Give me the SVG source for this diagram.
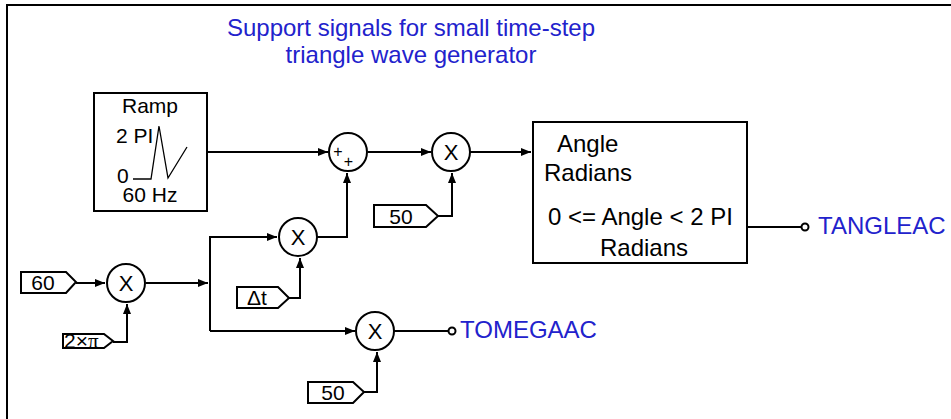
<svg xmlns="http://www.w3.org/2000/svg" width="951" height="419" viewBox="0 0 951 419">
<style>
.ln{fill:none;stroke:#000;stroke-width:2}
.bx{fill:#fff;stroke:#000;stroke-width:2}
.t{font-family:"Liberation Sans",Arial,sans-serif;font-size:21px;fill:#000}
.tb{font-family:"Liberation Sans",Arial,sans-serif;font-size:24px;fill:#000}
.blue{font-family:"Liberation Sans",Arial,sans-serif;font-size:24px;fill:#2222cc}
.tag{font-family:"Liberation Sans",Arial,sans-serif;font-size:21px;fill:#000}
.x{font-family:"Liberation Sans",Arial,sans-serif;font-size:22px;fill:#000}
</style>
<defs>
<marker id="ah" viewBox="0 0 10 10" refX="10" refY="5" markerWidth="10" markerHeight="10" markerUnits="userSpaceOnUse" orient="auto">
<path d="M0,1 L10,5 L0,9 Z" fill="#000"/>
</marker>
</defs>
<rect width="951" height="419" fill="#fff"/>
<path d="M7,420 L7,5 L952,5" class="ln"/>
<g id="title">
<text class="blue" x="411" y="36" text-anchor="middle" font-size="25.5">Support signals for small time-step</text>
<text class="blue" x="411" y="63" text-anchor="middle" font-size="25.5">triangle wave generator</text>
</g>
<g id="connectors">
<path class="ln" d="M207,152 H328" marker-end="url(#ah)"/>
<path class="ln" d="M368,152 H431" marker-end="url(#ah)"/>
<path class="ln" d="M470,152 H531" marker-end="url(#ah)"/>
<path class="ln" d="M438,216 H452 V173" marker-end="url(#ah)"/>
<path class="ln" d="M317,237 H347 V173" marker-end="url(#ah)"/>
<path class="ln" d="M210,331 V237 H277" marker-end="url(#ah)"/>
<path class="ln" d="M289,298 H300 V258" marker-end="url(#ah)"/>
<path class="ln" d="M76,283 H105" marker-end="url(#ah)"/>
<path class="ln" d="M146,283 H208" marker-end="url(#ah)"/>
<path class="ln" d="M113,342 H127 V304" marker-end="url(#ah)"/>
<path class="ln" d="M210,331 H355" marker-end="url(#ah)"/>
<path class="ln" d="M364,392 H377 V352" marker-end="url(#ah)"/>
<path class="ln" d="M394,331 H448"/>
<path class="ln" d="M747,227 H801"/>
</g>
<g id="ramp">
<rect class="bx" x="94" y="93" width="113" height="118"/>
<text class="t" x="150" y="113" text-anchor="middle">Ramp</text>
<text class="t" x="116" y="143">2 PI</text>
<text class="t" x="117" y="183">0</text>
<text class="t" x="150" y="202" text-anchor="middle">60 Hz</text>
<path d="M133,179 H151 L159,126 L168,178 L187,147" fill="none" stroke="#000" stroke-width="1.3"/>
</g>
<g id="sum">
<circle class="bx" cx="348" cy="152" r="19"/>
<text x="338" y="157" text-anchor="middle" font-family="Liberation Sans,Arial,sans-serif" font-size="16">+</text>
<text x="348.5" y="167" text-anchor="middle" font-family="Liberation Sans,Arial,sans-serif" font-size="16">+</text>
</g>
<g id="mult1">
<circle class="bx" cx="451" cy="152" r="19"/>
<text class="x" x="451" y="160" text-anchor="middle">X</text>
</g>
<g id="const50a">
<path class="bx" d="M374,205 H426 L438,216 L426,227 H374 Z"/>
<text class="tag" x="401" y="224" text-anchor="middle">50</text>
</g>
<g id="angle">
<rect class="bx" x="533" y="122" width="214" height="141"/>
<text class="tb" x="557" y="152">Angle</text>
<text class="tb" x="544" y="181">Radians</text>
<text class="tb" x="548" y="225" font-size="24.5">0 &lt;= Angle &lt; 2 PI</text>
<text class="tb" x="600" y="256">Radians</text>
</g>
<g id="tangleac">
<circle cx="805" cy="227" r="3.5" fill="#fff" stroke="#000" stroke-width="2"/>
<text class="blue" x="818" y="234">TANGLEAC</text>
</g>
<g id="mult2">
<circle class="bx" cx="298" cy="237" r="19"/>
<text class="x" x="298" y="245" text-anchor="middle">X</text>
</g>
<g id="dt">
<path class="bx" d="M237,287 H278 L289,298 L278,308 H237 Z"/>
<text class="tag" x="257" y="305" text-anchor="middle">Δt</text>
</g>
<g id="const60">
<path class="bx" d="M21,272 H66 L76,282 L66,293 H21 Z"/>
<text class="tag" x="43" y="290" text-anchor="middle">60</text>
</g>
<g id="mult0">
<circle class="bx" cx="126" cy="283" r="19"/>
<text class="x" x="126" y="291" text-anchor="middle">X</text>
</g>
<g id="twopi">
<path class="bx" d="M63,334 H104 L113,341 L104,348 H63 Z"/>
<text class="tag" x="64" y="348" font-size="20">2×<tspan font-family="Liberation Serif,serif" font-size="21">π</tspan></text>
</g>
<g id="mult3">
<circle class="bx" cx="375" cy="331" r="19"/>
<text class="x" x="375" y="339" text-anchor="middle">X</text>
</g>
<g id="const50b">
<path class="bx" d="M308,382 H353 L364,392 L353,403 H308 Z"/>
<text class="tag" x="333" y="400" text-anchor="middle">50</text>
</g>
<g id="tomegaac">
<circle cx="452" cy="331" r="3.5" fill="#fff" stroke="#000" stroke-width="2"/>
<text class="blue" x="460" y="338">TOMEGAAC</text>
</g>
</svg>
